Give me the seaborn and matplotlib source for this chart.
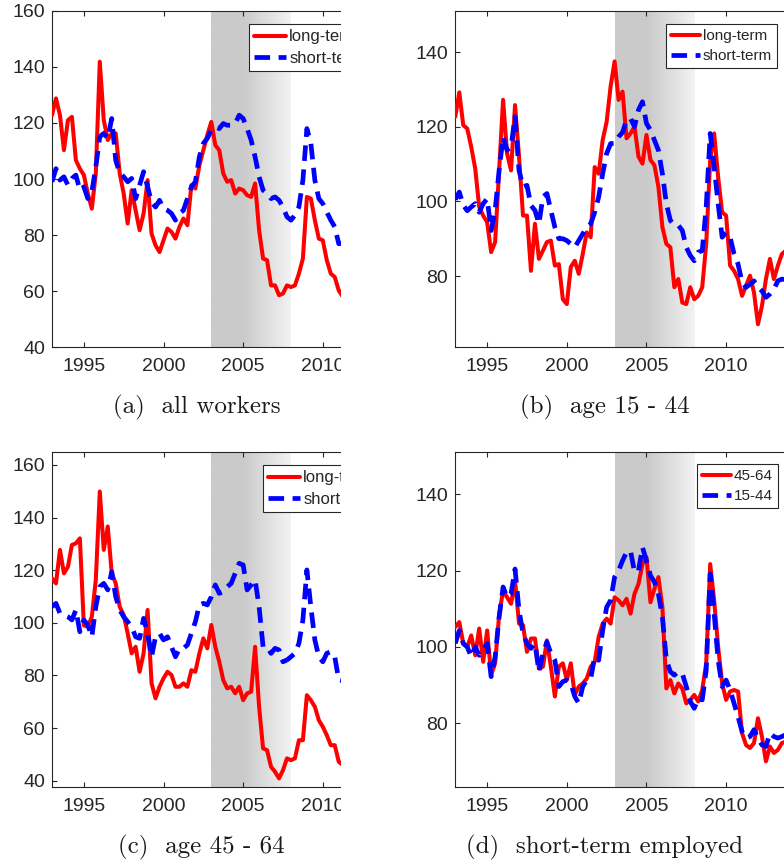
import numpy as np
import pandas as pd
import matplotlib
matplotlib.use("Agg")
import matplotlib.pyplot as plt
from matplotlib.patches import Rectangle
import seaborn as sns

# ---------------- data (quarterly, 1993Q1 - 2013Q4) ----------------
QUARTERS = np.arange(1993.0, 2014.0, 0.25)

A_LONG = [122.8, 128.8, 122.8, 110.3, 121.0, 122.2, 106.7, 103.7,
          101.4, 94.8, 89.4, 102.0, 141.9, 121.0, 113.9, 116.3,
          116.3, 102.0, 94.8, 84.1, 96.0, 88.8, 81.7, 87.7,
          99.6, 80.5, 76.3, 73.9, 78.1, 82.3, 81.1, 78.7,
          82.9, 85.9, 83.5, 97.8, 96.6, 104.9, 110.3, 115.7,
          120.4, 112.1, 110.3, 102.0, 99.0, 99.6, 94.8, 96.6,
          96.0, 94.2, 93.6, 98.4, 81.7, 71.6, 71.0, 62.0,
          62.0, 58.5, 59.1, 62.0, 61.4, 62.0, 66.2, 71.6,
          93.6, 93.0, 85.3, 78.7, 78.1, 71.0, 66.2, 65.0,
          60.2, 58.0, 60.0, 62.0, 60.0, 58.0, 57.0, 58.0,
          57.0, 56.0, 55.0, 55.0]
A_SHORT = [99.0, 103.7, 99.6, 100.8, 97.8, 100.2, 101.4, 96.0,
           97.2, 93.0, 95.4, 104.3, 115.1, 116.3, 114.5, 121.6,
           106.7, 102.0, 100.8, 99.0, 100.2, 93.0, 97.8, 102.6,
           97.2, 91.8, 90.0, 92.4, 89.4, 88.8, 87.7, 85.3,
           87.7, 88.8, 93.0, 97.2, 99.0, 107.9, 112.7, 114.5,
           117.5, 118.6, 118.0, 119.8, 119.2, 119.2, 119.8, 122.8,
           121.6, 118.0, 113.9, 107.9, 100.8, 96.0, 94.8, 93.0,
           93.6, 92.4, 90.0, 86.5, 85.3, 87.1, 90.0, 99.6,
           118.0, 112.7, 99.6, 93.0, 91.2, 88.2, 85.3, 82.9,
           76.9, 77.0, 78.0, 79.0, 77.0, 76.0, 75.0, 76.0,
           77.0, 78.0, 78.0, 78.0]

B_LONG = [122.7, 129.2, 120.4, 119.5, 114.6, 108.8, 98.5, 96.2,
          94.4, 86.4, 89.1, 108.3, 127.2, 112.8, 108.3, 125.8,
          112.0, 96.2, 96.2, 81.4, 94.0, 84.6, 86.8, 89.1,
          89.5, 82.8, 83.2, 73.8, 72.5, 82.4, 84.1, 80.6,
          85.9, 91.7, 90.4, 109.2, 107.4, 116.4, 121.3, 130.8,
          137.5, 127.2, 129.4, 116.9, 118.2, 120.0, 112.0, 110.1,
          117.8, 111.1, 109.7, 103.9, 93.1, 88.6, 87.7, 77.0,
          79.2, 72.9, 72.5, 77.0, 73.8, 74.7, 77.0, 88.6,
          111.1, 118.2, 106.5, 97.1, 96.2, 82.8, 81.4, 79.2,
          74.7, 77.4, 80.1, 75.6, 67.1, 72.0, 79.2, 84.6,
          79.2, 82.8, 85.9, 86.8]
B_SHORT = [100.5, 102.5, 99.0, 97.5, 98.5, 99.4, 97.1, 99.4,
           100.7, 92.2, 97.6, 108.3, 117.3, 113.7, 114.6, 122.7,
           108.3, 103.9, 104.3, 98.9, 97.6, 94.0, 101.2, 102.1,
           97.6, 93.1, 90.0, 90.0, 89.5, 88.6, 87.7, 89.5,
           91.3, 93.1, 94.0, 97.1, 101.2, 107.4, 112.8, 115.5,
           115.5, 117.3, 118.5, 121.8, 122.2, 120.0, 124.5, 126.7,
           120.9, 119.1, 116.4, 113.7, 107.4, 99.4, 94.9, 93.6,
           93.6, 92.2, 87.7, 85.5, 84.1, 86.4, 86.8, 98.5,
           118.2, 109.2, 99.4, 90.4, 91.7, 90.4, 85.9, 83.2,
           78.3, 77.0, 77.8, 78.7, 77.0, 76.0, 74.3, 75.2,
           76.5, 78.7, 79.2, 79.0]

C_LONG = [116.9, 115.0, 127.7, 118.8, 121.3, 129.6, 130.2, 132.1,
          99.0, 98.5, 102.3, 116.3, 149.9, 127.7, 136.6, 118.8,
          115.0, 106.1, 103.0, 96.0, 88.4, 90.9, 81.4, 88.4,
          104.9, 77.0, 71.3, 75.7, 78.9, 81.4, 80.2, 75.7,
          75.7, 77.0, 75.7, 82.0, 81.4, 88.4, 94.1, 90.3,
          99.2, 90.9, 85.2, 78.3, 75.1, 75.7, 73.2, 75.7,
          70.6, 73.2, 73.8, 90.9, 68.1, 52.3, 51.6, 45.3,
          43.4, 40.9, 44.0, 48.5, 47.8, 48.5, 55.4, 55.4,
          72.5, 70.6, 68.1, 63.0, 60.5, 57.3, 53.5, 53.5,
          47.2, 46.0, 45.0, 44.0, 45.0, 44.0, 43.0, 42.0,
          43.0, 42.0, 41.0, 41.0]
C_SHORT = [106.1, 107.4, 103.6, 103.0, 102.3, 101.1, 104.9, 96.6,
           101.1, 99.2, 94.7, 106.1, 113.7, 115.0, 112.5, 119.4,
           109.9, 104.9, 102.3, 100.4, 98.5, 94.7, 94.1, 101.7,
           96.0, 87.1, 94.7, 96.0, 93.5, 94.7, 90.9, 87.1,
           90.3, 90.3, 91.6, 96.0, 100.4, 106.8, 107.4, 106.8,
           109.9, 114.4, 111.2, 111.8, 113.7, 115.0, 118.8, 122.6,
           122.0, 112.5, 114.4, 116.3, 106.1, 90.9, 90.9, 88.4,
           90.3, 89.7, 85.2, 85.9, 87.1, 88.4, 92.2, 101.1,
           120.1, 106.1, 93.5, 87.1, 85.2, 88.4, 89.0, 87.1,
           78.3, 78.0, 79.0, 80.0, 78.0, 77.0, 77.0, 78.0,
           79.0, 80.0, 80.0, 80.0]

D_OLD = [105.2, 106.5, 100.9, 100.0, 103.0, 97.8, 104.8, 96.1,
         104.3, 92.6, 95.7, 108.3, 114.8, 113.0, 111.3, 117.4,
         106.1, 105.7, 98.7, 102.2, 102.2, 94.3, 94.8, 101.7,
         94.8, 87.0, 94.8, 95.7, 91.3, 95.7, 87.4, 89.6,
         90.4, 91.7, 94.8, 96.1, 102.6, 106.1, 107.4, 106.1,
         113.0, 112.2, 110.9, 112.6, 108.7, 113.9, 116.5, 121.7,
         123.5, 111.7, 115.2, 118.3, 110.4, 89.1, 91.3, 87.8,
         90.4, 89.1, 85.2, 86.1, 87.4, 85.7, 88.7, 95.7,
         121.7, 112.2, 100.0, 90.4, 86.1, 88.3, 88.7, 88.3,
         77.4, 74.3, 73.5, 74.8, 81.3, 76.5, 70.0, 73.9,
         72.2, 73.0, 74.8, 75.2]
D_YOUNG = [100.9, 104.3, 100.9, 100.0, 97.4, 100.0, 97.8, 99.1,
           100.9, 92.2, 97.4, 107.8, 115.7, 113.0, 113.9, 120.4,
           109.6, 103.5, 100.9, 99.6, 100.9, 93.5, 98.3, 101.3,
           98.3, 96.5, 89.6, 90.9, 91.3, 90.4, 87.0, 85.2,
           89.6, 91.3, 91.7, 97.4, 96.5, 104.3, 110.4, 112.2,
           118.3, 120.0, 122.6, 124.8, 125.2, 119.6, 120.0, 126.1,
           122.6, 118.7, 117.0, 113.9, 107.8, 96.5, 93.5, 92.6,
           93.5, 93.0, 89.6, 85.7, 83.9, 86.5, 86.1, 93.9,
           119.1, 108.7, 96.5, 89.6, 91.3, 88.7, 85.2, 81.7,
           77.8, 76.1, 76.5, 78.3, 76.1, 74.3, 73.9, 77.4,
           76.5, 76.1, 76.5, 77.0]

LABELS_TERM = ["long-term", "short-term"]
LABELS_AGE = ["45-64", "15-44"]
CAPTIONS = ["(a)  all workers", "(b)  age 15 - 44", "(c)  age 45 - 64", "(d)  short-term employed"]
YTICKS_WIDE = [40, 60, 80, 100, 120, 140, 160]
YTICKS_NARROW = [80, 100, 120, 140]
XTICKS = [1995, 2000, 2005, 2010]
SHADE_START, SHADE_END = 2003, 2008

# ---------------- style ----------------
sns.set_style("ticks")
plt.rcParams['font.family'] = ['Liberation Sans', 'DejaVu Sans']
INK = '#262626'

W, H = 784, 864
fig = plt.figure(figsize=(W / 100, H / 100), dpi=100)


def rect(left, top, right, bottom):
    return [left / W, 1 - bottom / H, (right - left) / W, (bottom - top) / H]


PX_PER_YEAR = 15.93
XLIM = (1993.0, 2014.5)
AX_W = (XLIM[1] - XLIM[0]) * PX_PER_YEAR

panels = [
    dict(box=rect(52, 11, 52 + AX_W, 347), ylim=(40, 160), yt=YTICKS_WIDE,
         red=A_LONG, blue=A_SHORT, labels=LABELS_TERM, leg=(249, 24), lfs=12,
         cap=CAPTIONS[0], cxy=(197, 407), z=0),
    dict(box=rect(455.3, 11, 455.3 + AX_W, 347), ylim=(61, 151), yt=YTICKS_NARROW,
         red=B_LONG, blue=B_SHORT, labels=LABELS_TERM, leg=(666, 24), lfs=11,
         cap=CAPTIONS[1], cxy=(605, 407), z=10),
    dict(box=rect(52, 452.3, 52 + AX_W, 787.3), ylim=(37.5, 164.8), yt=YTICKS_WIDE,
         red=C_LONG, blue=C_SHORT, labels=LABELS_TERM, leg=(263, 465), lfs=12,
         cap=CAPTIONS[2], cxy=(201, 847), z=0),
    dict(box=rect(455.3, 452.3, 455.3 + AX_W, 787.3), ylim=(63.2, 151), yt=YTICKS_NARROW,
         red=D_OLD, blue=D_YOUNG, labels=LABELS_AGE, leg=(697, 464), lfs=11,
         cap=CAPTIONS[3], cxy=(605, 847), z=10),
]

grad_t = np.linspace(SHADE_START, SHADE_END, 300)
grad = np.where(grad_t < 2005, 0.79, 0.79 + (grad_t - 2005) / 3.0 * 0.16)[None, :]

for p in panels:
    ax = fig.add_axes(p['box'])
    ax.set_zorder(p['z'])
    ax.imshow(grad, extent=(SHADE_START, SHADE_END, p['ylim'][0], p['ylim'][1]),
              aspect='auto', cmap='gray', vmin=0, vmax=1, zorder=0,
              interpolation='bilinear')
    df = pd.DataFrame({'t': QUARTERS, 'red': p['red'], 'blue': p['blue']})
    sns.lineplot(data=df, x='t', y='red', ax=ax, color=(1, 0, 0), lw=2.9,
                 label=p['labels'][0], zorder=3)
    sns.lineplot(data=df, x='t', y='blue', ax=ax, color=(0, 0, 1), lw=3.4,
                 linestyle=(0, (3.3, 1.8)), label=p['labels'][1], zorder=4,
                 solid_capstyle='butt', dash_capstyle='butt')
    ax.set_xlim(*XLIM)
    ax.set_ylim(*p['ylim'])
    ax.set_xticks(XTICKS)
    ax.set_yticks(p['yt'])
    ax.set_xlabel('')
    ax.set_ylabel('')
    for s in ax.spines.values():
        s.set_visible(True)
        s.set_color(INK)
        s.set_linewidth(0.8)
    ax.tick_params(direction='in', length=3.5, width=0.8, top=True, right=True,
                   labelsize=14, colors=INK)
    ax.tick_params(axis='x', pad=8)
    ax.tick_params(axis='y', pad=5)
    h, l = ax.get_legend_handles_labels()
    leg = ax.legend(h, l, loc='upper left',
                    bbox_to_anchor=(p['leg'][0] / W, 1 - p['leg'][1] / H),
                    bbox_transform=fig.transFigure, borderaxespad=0,
                    frameon=True, fancybox=False, framealpha=1,
                    edgecolor=INK, fontsize=p['lfs'], handlelength=1.9,
                    handletextpad=0.2, labelspacing=0.4, borderpad=0.32)
    leg.get_frame().set_linewidth(0.8)
    fig.text(p['cxy'][0] / W, 1 - p['cxy'][1] / H, p['cap'], ha='center',
             va='center', fontsize=18, family=['cmr10', 'DejaVu Serif'], color='#1a1a1a')

# crop the left column (as in the reference image)
fig.add_artist(Rectangle((341 / W, 0), (409 - 341) / W, 1, transform=fig.transFigure,
                         facecolor='white', edgecolor='none', zorder=5))

fig.savefig('out.png', dpi=100)
